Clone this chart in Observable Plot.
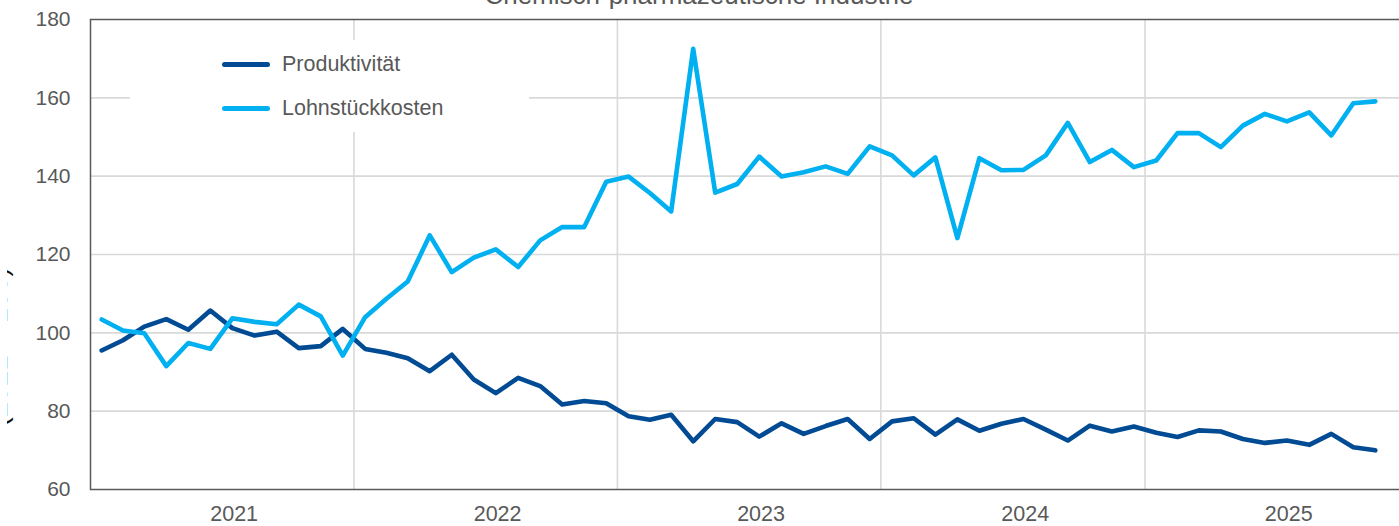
<!DOCTYPE html>
<html>
<head>
<meta charset="utf-8">
<script src="https://cdn.jsdelivr.net/npm/d3@7"></script>
<script src="https://cdn.jsdelivr.net/npm/@observablehq/plot@0.6"></script>
<style>
  html, body { margin: 0; padding: 0; background: #fff; overflow: hidden; }
  #wrap { position: relative; width: 1408px; height: 526px; font-family: "Liberation Sans", Arial, sans-serif; }
  #title { position: absolute; left: 0; width: 1398px; text-align: center; top: -20px; font-size: 26px; color: #595959; white-space: nowrap; }
  #ylab { position: absolute; left: 7px; top: 0; width: 20px; height: 526px; overflow: hidden; }
  #legend { position: absolute; left: 130px; top: 40px; width: 399px; height: 92px; background: #fff; }
  .lg-row { position: absolute; left: 92px; height: 30px; display: flex; align-items: center; font-size: 21.5px; color: #595959; }
  .lg-sw { width: 48px; height: 5px; border-radius: 3px; margin-right: 12px; }
</style>
</head>
<body>
<div id="wrap">
  <div id="chart"></div>
  <div id="title">Chemisch-pharmazeutische Industrie</div>
  <div id="ylab"><svg width="20" height="526"><text transform="translate(0,347) rotate(-90)" text-anchor="middle" font-size="28" fill="#111" font-family="Liberation Sans, Arial, sans-serif">(2021 = 100)</text></svg></div>
  <div id="legend"></div>
</div>
<script>
// Series labels and colours
const seriesNames = ["Produktivität", "Lohnstückkosten"];
const seriesColors = ["#004b93", "#00b0f0"];

// Monthly values, January 2021 to November 2025
const firstMonth = "2021-01";
const produktivitaet = [95.5, 98.1, 101.6, 103.5, 100.8, 105.7, 101.2, 99.3, 100.3, 96.1,
  96.6, 101.0, 95.9, 94.9, 93.5, 90.2, 94.4, 88.1, 84.6, 88.5,
  86.4, 81.7, 82.6, 82.0, 78.7, 77.8, 79.1, 72.3, 78.0, 77.2,
  73.5, 76.9, 74.2, 76.2, 78.0, 72.9, 77.4, 78.2, 74.0, 77.9,
  75.0, 76.8, 78.0, 75.3, 72.5, 76.3, 74.8, 76.1, 74.5, 73.4,
  75.1, 74.8, 72.9, 71.9, 72.5, 71.4, 74.2, 70.8, 70.0];
const lohnstueckkosten = [103.4, 100.6, 99.9, 91.5, 97.4, 95.9, 103.7, 102.8, 102.2, 107.2,
  104.2, 94.2, 104.0, 108.7, 113.1, 124.9, 115.5, 119.2, 121.3, 116.8,
  123.6, 127.0, 127.0, 138.6, 139.9, 135.7, 131.0, 172.5, 135.8, 138.0,
  145.0, 139.9, 141.0, 142.5, 140.6, 147.6, 145.3, 140.2, 144.8, 124.2,
  144.6, 141.5, 141.6, 145.3, 153.6, 143.6, 146.7, 142.3, 144.0, 151.0,
  151.0, 147.4, 152.9, 155.9, 154.0, 156.3, 150.4, 158.6, 159.1];

// Axis ticks
const yTicks = [60, 80, 100, 120, 140, 160, 180];
const yearLabels = ["2021", "2022", "2023", "2024", "2025"];

const start = d3.utcParse("%Y-%m")(firstMonth);
const monthMid = i => {
  const a = d3.utcMonth.offset(start, i), b = d3.utcMonth.offset(start, i + 1);
  return new Date((a.getTime() + b.getTime()) / 2);
};
const rows = [];
[produktivitaet, lohnstueckkosten].forEach((vals, s) =>
  vals.forEach((v, i) => rows.push({date: monthMid(i), value: v, series: seriesNames[s]})));

const yearStart = y => new Date(Date.UTC(+y, 0, 1));
const yearMid = y => new Date(Date.UTC(+y, 6, 1));
const domainX = [yearStart(yearLabels[0]), yearStart(+yearLabels[yearLabels.length - 1] + 1)];
const gridYears = yearLabels.slice(1).map(yearStart);

const chart = Plot.plot({
  width: 1408,
  height: 526,
  marginLeft: 90,
  marginRight: 0,
  marginTop: 19,
  marginBottom: 37,
  style: {fontFamily: "Liberation Sans, Arial, sans-serif", fontSize: "21px", color: "#595959", background: "#fff"},
  x: {type: "utc", domain: domainX},
  y: {domain: [60, 180]},
  color: {domain: seriesNames, range: seriesColors},
  marks: [
    Plot.gridY(yTicks.slice(1, -1), {stroke: "#d9d9d9", strokeOpacity: 1, strokeWidth: 1.6}),
    Plot.gridX(gridYears, {stroke: "#d9d9d9", strokeOpacity: 1, strokeWidth: 1.6}),
    Plot.frame({stroke: "#595959", strokeWidth: 1.5}),
    Plot.axisY(yTicks, {tickSize: 0, tickPadding: 20, fill: "#595959", fontSize: 21, label: null}),
    Plot.axisX(yearLabels.map(yearMid), {tickSize: 0, tickPadding: 16, dx: 13, fill: "#595959", fontSize: 21.5, label: null, tickFormat: d => String(d.getUTCFullYear())}),
    Plot.line(rows, {x: "date", y: "value", z: "series", stroke: "series", strokeWidth: 4.6, strokeLinejoin: "round", strokeLinecap: "round"})
  ]
});
document.getElementById("chart").appendChild(chart);

// Legend inside the plot area
const legend = document.getElementById("legend");
seriesNames.forEach((name, i) => {
  const row = document.createElement("div");
  row.className = "lg-row";
  row.style.top = (9 + i * 44) + "px";
  const sw = document.createElement("div");
  sw.className = "lg-sw";
  sw.style.background = seriesColors[i];
  const t = document.createElement("span");
  t.textContent = name;
  row.appendChild(sw);
  row.appendChild(t);
  legend.appendChild(row);
});
</script>
</body>
</html>
